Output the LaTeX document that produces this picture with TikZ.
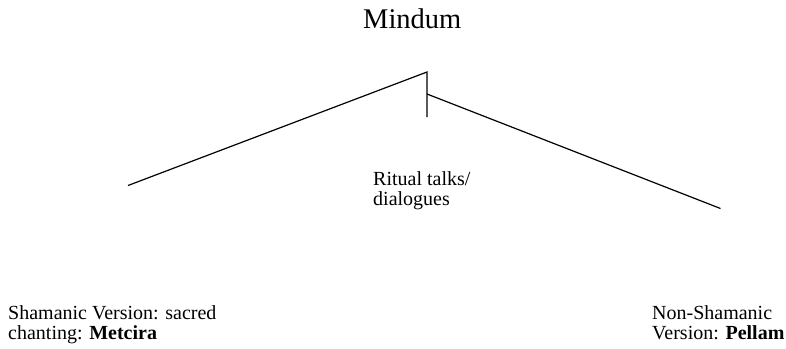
\documentclass[tikz,border=0pt]{standalone}
\usepackage{fontspec}
\setmainfont{Liberation Serif}
\begin{document}
\begin{tikzpicture}[x=1bp,y=-1bp,
  branch/.style={line width=1.2bp,black},
  title/.style={inner sep=0pt,anchor=base west,font=\fontsize{28.5bp}{32bp}\selectfont},
  label/.style={inner sep=0pt,anchor=base west,align=left,font=\fontsize{20bp}{20bp}\selectfont}]
\useasboundingbox (0,0) rectangle (786,348);
% tree frame
\coordinate (apex) at (427,72);
\coordinate (stem) at (427,117);
\coordinate (fork) at (427,94);
\coordinate (leftend) at (128,185.5);
\coordinate (rightend) at (720.5,208.5);
\draw[branch] (leftend) -- (apex) -- (stem);
\draw[branch] (fork) -- (rightend);
% texts (anchored at the baseline of the last line)
\node[title] (root) at (363,28) {Mindum};
\node[label] (mid) at (373,205) {Ritual talks/\\dialogues};
\node[label] (left) at (8,339) {Shamanic Version: sacred\\chanting: \textbf{Metcira}};
\node[label] (right) at (652,339) {Non-Shamanic\\Version: \textbf{Pellam}};
\end{tikzpicture}
\end{document}
